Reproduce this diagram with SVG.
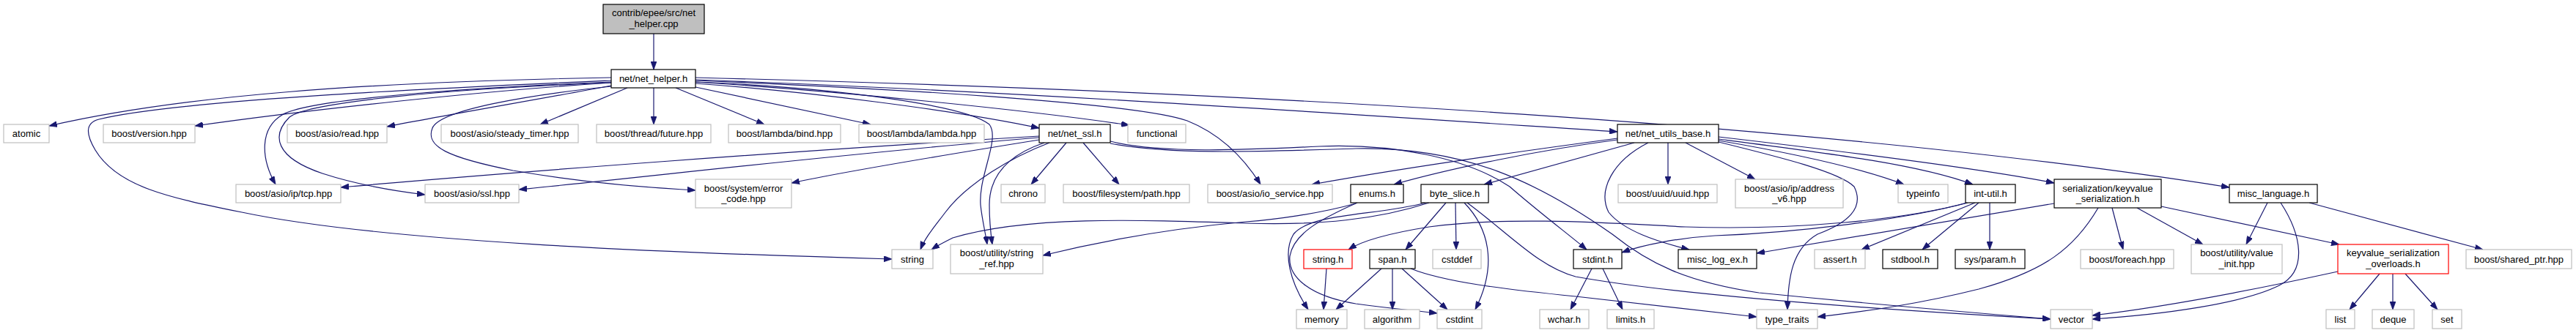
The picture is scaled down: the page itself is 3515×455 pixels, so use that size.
<svg xmlns="http://www.w3.org/2000/svg" width="3515" height="455" viewBox="0 0 3515 455">
<style>
rect{fill:#fff;stroke-width:1.2}
.g rect{stroke:#bfbfbf}
.k rect{stroke:#000}
.r rect{stroke:#ff0000}
.root rect{fill:#bfbfbf;stroke:#000}
text{font-family:"Liberation Sans",Arial,sans-serif;font-size:13px;text-anchor:middle;fill:#000}
#edges path{fill:none;stroke:#191970;stroke-width:1.2;marker-end:url(#a)}
</style>
<defs>
<marker id="a" markerWidth="11" markerHeight="8" refX="11" refY="4" orient="auto" markerUnits="userSpaceOnUse"><path d="M0,0 L11,4 L0,8 z" fill="#191970" stroke="#191970" stroke-width="0.8"/></marker>
</defs>
<rect x="0" y="0" width="3515" height="455" style="fill:#fff;stroke:none"/>
<g id="edges">
<path d="M892,46 L892,95"/>
<path d="M834,106 C500,112 250,130 67,172"/>
<path d="M834,110 C650,118 250,135 135,163 C115,168 118,185 130,205 C160,255 230,270 330,290 C520,330 900,345 1217,354"/>
<path d="M834,113 C650,125 420,150 266,172"/>
<path d="M834,112 C640,120 420,135 385,157 C355,175 355,215 376,252"/>
<path d="M834,113 C600,122 420,140 395,160 C370,185 375,215 440,237 C480,250 530,260 580,266"/>
<path d="M834,117 C740,135 620,155 528,173"/>
<path d="M834,118 C720,130 600,150 590,175 C580,200 610,215 700,233 C800,250 880,256 949,260"/>
<path d="M856,120 L737,170"/>
<path d="M892,120 L892,170"/>
<path d="M922,120 L1043,170"/>
<path d="M949,119 L1188,170"/>
<path d="M949,114 C1100,125 1300,150 1418,175"/>
<path d="M949,112 C1150,125 1400,150 1541,171"/>
<path d="M949,110 C1200,120 1550,140 1620,165 C1670,185 1700,220 1720,252"/>
<path d="M949,109 C1400,125 1900,160 2207,180"/>
<path d="M949,106 C1700,125 2500,170 3042,256"/>
<path d="M949,112 C1150,120 1320,145 1350,170 C1365,190 1335,240 1338,280 C1340,300 1345,320 1347,334"/>
<path d="M1455,195 L1407,252"/>
<path d="M1478,195 L1527,252"/>
<path d="M1418,186 C1100,205 700,235 465,256"/>
<path d="M1418,188 C1150,210 900,240 708,259"/>
<path d="M1418,191 C1300,210 1150,235 1080,250"/>
<path d="M1432,195 C1380,215 1320,250 1290,290 C1275,310 1262,325 1256,341"/>
<path d="M1425,195 C1375,212 1350,240 1350,280 C1350,300 1352,320 1354,334"/>
<path d="M1515,193 C1580,210 1700,205 1800,200 C1900,196 2000,215 2060,255 C2100,290 2140,320 2165,341"/>
<path d="M1515,196 C1600,212 1720,207 1850,203 C2000,200 2100,250 2200,320 C2250,360 2300,385 2400,400 C2550,415 2700,428 2798,436"/>
<path d="M2207,189 C2050,210 1900,232 1790,252"/>
<path d="M2207,191 C2100,205 1980,230 1902,252"/>
<path d="M2230,195 L2025,252"/>
<path d="M2276,195 L2276,252"/>
<path d="M2249,195 C2200,220 2180,260 2195,290 C2215,315 2260,330 2305,341"/>
<path d="M2300,195 L2395,245"/>
<path d="M2345,194 C2430,215 2510,235 2530,255 C2545,285 2520,305 2480,320 C2445,340 2440,380 2439,423"/>
<path d="M2345,192 C2450,210 2540,230 2598,252"/>
<path d="M2345,190 C2500,210 2620,225 2692,252"/>
<path d="M2345,187 C2500,205 2700,230 2803,250"/>
<path d="M1850,278 C1800,292 1740,300 1700,303 C1600,312 1500,330 1423,349"/>
<path d="M1852,277 C1800,300 1765,320 1760,350 C1757,380 1790,405 1850,415 C1900,422 1930,424 1961,428"/>
<path d="M1973,277 L1918,341"/>
<path d="M1986,277 L1987,341"/>
<path d="M1998,277 C2030,310 2045,360 2013,423"/>
<path d="M2002,277 C2060,320 2100,365 2150,378 C2300,405 2600,425 2798,436"/>
<path d="M1950,277 C1880,300 1800,308 1700,305 C1550,300 1400,295 1300,325 C1290,330 1280,335 1271,341"/>
<path d="M1945,277 C1880,295 1790,290 1765,320 C1750,345 1760,385 1785,423"/>
<path d="M1810,367 L1806,423"/>
<path d="M1885,367 L1823,423"/>
<path d="M1900,367 L1900,423"/>
<path d="M1913,367 L1975,423"/>
<path d="M1925,367 C1970,385 2050,395 2150,405 C2250,416 2330,425 2397,433"/>
<path d="M2172,367 L2143,423"/>
<path d="M2187,367 L2214,423"/>
<path d="M2695,277 L2540,341"/>
<path d="M2700,277 L2623,341"/>
<path d="M2715,277 L2715,341"/>
<path d="M2685,277 C2600,300 2450,318 2340,322 C2290,325 2240,335 2213,345"/>
<path d="M2684,277 C2600,300 2450,315 2300,310 C2200,305 2060,295 1950,310 C1900,318 1860,328 1840,341"/>
<path d="M2803,278 L2397,346"/>
<path d="M2863,284 C2830,340 2790,370 2700,395 C2620,415 2550,425 2480,433"/>
<path d="M2882,284 L2897,341"/>
<path d="M2916,284 L3006,334"/>
<path d="M2949,282 L3192,334"/>
<path d="M3094,277 L3065,334"/>
<path d="M3151,277 L3388,341"/>
<path d="M3112,277 C3140,320 3150,370 3110,390 C3060,415 2950,430 2855,436"/>
<path d="M3247,374 L3206,423"/>
<path d="M3265,374 L3265,423"/>
<path d="M3282,374 L3326,423"/>
<path d="M3190,371 C3080,395 2950,420 2855,431"/>
</g>
<g id="n_root" class="root"><rect x="823" y="6" width="138" height="40"/><text x="892" y="22">contrib/epee/src/net</text><text x="892" y="37">_helper.cpp</text></g>
<g id="n_net_helper" class="k"><rect x="834" y="95" width="115" height="25"/><text x="891.5" y="112">net/net_helper.h</text></g>
<g id="n_atomic" class="g"><rect x="5" y="170" width="62" height="25"/><text x="36" y="187">atomic</text></g>
<g id="n_version" class="g"><rect x="141" y="170" width="125" height="25"/><text x="203.5" y="187">boost/version.hpp</text></g>
<g id="n_read" class="g"><rect x="392" y="170" width="136" height="25"/><text x="460" y="187">boost/asio/read.hpp</text></g>
<g id="n_steady" class="g"><rect x="602" y="170" width="187" height="25"/><text x="695.5" y="187">boost/asio/steady_timer.hpp</text></g>
<g id="n_future" class="g"><rect x="814" y="170" width="156" height="25"/><text x="892" y="187">boost/thread/future.hpp</text></g>
<g id="n_bind" class="g"><rect x="994" y="170" width="153" height="25"/><text x="1070.5" y="187">boost/lambda/bind.hpp</text></g>
<g id="n_lambda" class="g"><rect x="1172" y="170" width="171" height="25"/><text x="1257.5" y="187">boost/lambda/lambda.hpp</text></g>
<g id="n_net_ssl" class="k"><rect x="1418" y="170" width="97" height="25"/><text x="1466.5" y="187">net/net_ssl.h</text></g>
<g id="n_functional" class="g"><rect x="1539" y="170" width="79" height="25"/><text x="1578.5" y="187">functional</text></g>
<g id="n_net_utils_base" class="k"><rect x="2207" y="170" width="138" height="25"/><text x="2276" y="187">net/net_utils_base.h</text></g>
<g id="n_tcp" class="g"><rect x="322" y="252" width="143" height="25"/><text x="393.5" y="269">boost/asio/ip/tcp.hpp</text></g>
<g id="n_ssl" class="g"><rect x="580" y="252" width="128" height="25"/><text x="644" y="269">boost/asio/ssl.hpp</text></g>
<g id="n_error_code" class="g"><rect x="949" y="245" width="131" height="39"/><text x="1014.5" y="261.5">boost/system/error</text><text x="1014.5" y="275.5">_code.hpp</text></g>
<g id="n_chrono" class="g"><rect x="1366" y="252" width="60" height="25"/><text x="1396" y="269">chrono</text></g>
<g id="n_fspath" class="g"><rect x="1451" y="252" width="172" height="25"/><text x="1537" y="269">boost/filesystem/path.hpp</text></g>
<g id="n_io_service" class="g"><rect x="1648" y="252" width="170" height="25"/><text x="1733" y="269">boost/asio/io_service.hpp</text></g>
<g id="n_enums" class="k"><rect x="1843" y="252" width="72" height="25"/><text x="1879" y="269">enums.h</text></g>
<g id="n_byte_slice" class="k"><rect x="1939" y="252" width="92" height="25"/><text x="1985" y="269">byte_slice.h</text></g>
<g id="n_uuid" class="g"><rect x="2208" y="252" width="135" height="25"/><text x="2275.5" y="269">boost/uuid/uuid.hpp</text></g>
<g id="n_address_v6" class="g"><rect x="2368" y="245" width="147" height="39"/><text x="2441.5" y="261.5">boost/asio/ip/address</text><text x="2441.5" y="275.5">_v6.hpp</text></g>
<g id="n_typeinfo" class="g"><rect x="2590" y="252" width="68" height="25"/><text x="2624" y="269">typeinfo</text></g>
<g id="n_int_util" class="k"><rect x="2682" y="252" width="68" height="25"/><text x="2716" y="269">int-util.h</text></g>
<g id="n_kv_ser" class="k"><rect x="2803" y="245" width="146" height="39"/><text x="2876" y="261.5">serialization/keyvalue</text><text x="2876" y="275.5">_serialization.h</text></g>
<g id="n_misc_language" class="k"><rect x="3042" y="252" width="120" height="25"/><text x="3102" y="269">misc_language.h</text></g>
<g id="n_string" class="g"><rect x="1217" y="341" width="56" height="26"/><text x="1245" y="358.5">string</text></g>
<g id="n_string_ref" class="g"><rect x="1297" y="334" width="126" height="40"/><text x="1360" y="350">boost/utility/string</text><text x="1360" y="365">_ref.hpp</text></g>
<g id="n_string_h" class="r"><rect x="1779" y="341" width="66" height="26"/><text x="1812" y="358.5">string.h</text></g>
<g id="n_span" class="k"><rect x="1869" y="341" width="62" height="26"/><text x="1900" y="358.5">span.h</text></g>
<g id="n_cstddef" class="g"><rect x="1955" y="341" width="66" height="26"/><text x="1988" y="358.5">cstddef</text></g>
<g id="n_stdint" class="k"><rect x="2147" y="341" width="66" height="26"/><text x="2180" y="358.5">stdint.h</text></g>
<g id="n_misc_log_ex" class="k"><rect x="2290" y="341" width="107" height="26"/><text x="2343.5" y="358.5">misc_log_ex.h</text></g>
<g id="n_assert" class="g"><rect x="2476" y="341" width="69" height="26"/><text x="2510.5" y="358.5">assert.h</text></g>
<g id="n_stdbool" class="k"><rect x="2569" y="341" width="75" height="26"/><text x="2606.5" y="358.5">stdbool.h</text></g>
<g id="n_sys_param" class="k"><rect x="2668" y="341" width="95" height="26"/><text x="2715.5" y="358.5">sys/param.h</text></g>
<g id="n_foreach" class="g"><rect x="2839" y="341" width="127" height="26"/><text x="2902.5" y="358.5">boost/foreach.hpp</text></g>
<g id="n_value_init" class="g"><rect x="2990" y="334" width="124" height="40"/><text x="3052" y="350">boost/utility/value</text><text x="3052" y="365">_init.hpp</text></g>
<g id="n_kv_overloads" class="r"><rect x="3190" y="334" width="151" height="40"/><text x="3265.5" y="350">keyvalue_serialization</text><text x="3265.5" y="365">_overloads.h</text></g>
<g id="n_shared_ptr" class="g"><rect x="3365" y="341" width="144" height="26"/><text x="3437" y="358.5">boost/shared_ptr.hpp</text></g>
<g id="n_memory" class="g"><rect x="1769" y="423" width="69" height="26"/><text x="1803.5" y="440.5">memory</text></g>
<g id="n_algorithm" class="g"><rect x="1862" y="423" width="75" height="26"/><text x="1899.5" y="440.5">algorithm</text></g>
<g id="n_cstdint" class="g"><rect x="1961" y="423" width="61" height="26"/><text x="1991.5" y="440.5">cstdint</text></g>
<g id="n_wchar" class="g"><rect x="2101" y="423" width="67" height="26"/><text x="2134.5" y="440.5">wchar.h</text></g>
<g id="n_limits" class="g"><rect x="2193" y="423" width="64" height="26"/><text x="2225" y="440.5">limits.h</text></g>
<g id="n_type_traits" class="g"><rect x="2397" y="423" width="83" height="26"/><text x="2438.5" y="440.5">type_traits</text></g>
<g id="n_vector" class="g"><rect x="2798" y="423" width="57" height="26"/><text x="2826.5" y="440.5">vector</text></g>
<g id="n_list" class="g"><rect x="3174" y="423" width="39" height="26"/><text x="3193.5" y="440.5">list</text></g>
<g id="n_deque" class="g"><rect x="3237" y="423" width="57" height="26"/><text x="3265.5" y="440.5">deque</text></g>
<g id="n_set" class="g"><rect x="3319" y="423" width="40" height="26"/><text x="3339" y="440.5">set</text></g>
</svg>
